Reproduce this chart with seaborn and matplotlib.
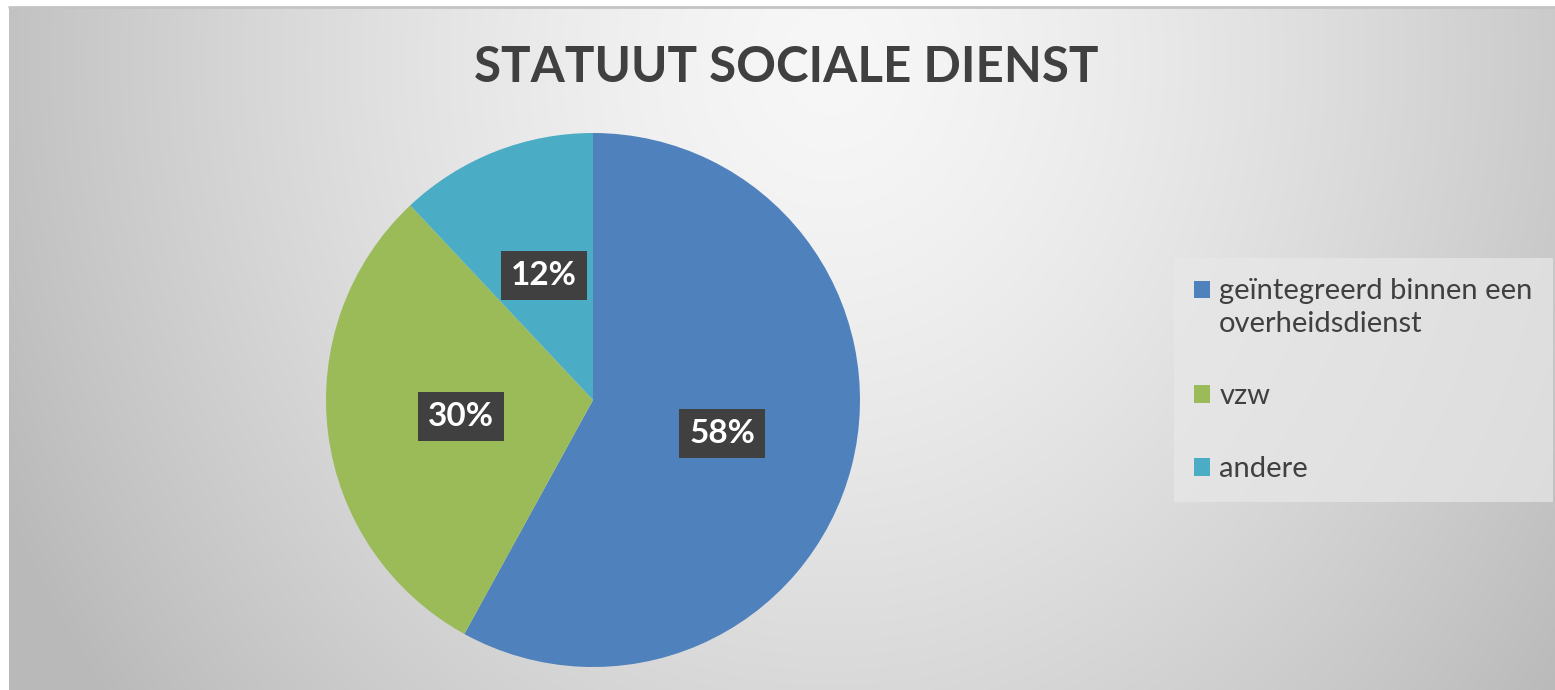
import numpy as np
import matplotlib
matplotlib.use("Agg")
import matplotlib.pyplot as plt
from matplotlib.patches import Rectangle
from matplotlib.legend_handler import HandlerPatch
import seaborn as sns

# data
labels = ["geïntegreerd binnen een\noverheidsdienst", "vzw", "andere"]
values = [58, 30, 12]
colors = ["#4F81BD", "#9BBB59", "#4BACC6"]
title = "STATUUT SOCIALE DIENST"

sns.set_theme(style="white")
plt.rcParams['font.family'] = ['Lato', 'DejaVu Sans']

W, H = 1555, 690
fig = plt.figure(figsize=(W / 100, H / 100), dpi=100)
fig.patch.set_facecolor("white")

# radial grey gradient behind the chart
bg = fig.add_axes([9 / W, 0, (W - 9) / W, (H - 7) / H])
yy, xx = np.mgrid[7:H, 9:W]
d = np.sqrt(((xx - 830) / 790.0) ** 2 + ((yy - 60) / 900.0) ** 2)
shade = np.clip(247 - 50 * d ** 1.4, 185, 250) / 255.0
rgb = np.dstack([shade, shade, shade])
bg.imshow(rgb, aspect="auto", interpolation="bilinear")
bg.axis("off")
fig.add_artist(plt.Line2D([9 / W, 1], [1 - 7 / H, 1 - 7 / H], color="#c4c4c4", lw=2,
                          transform=fig.transFigure))

# pie
r = 267
cx, cy = 593, 400
ax = fig.add_axes([(cx - r) / W, 1 - (cy + r) / H, 2 * r / W, 2 * r / H])
wedges, texts, autotexts = ax.pie(values, colors=colors, startangle=90, counterclock=False,
                                  autopct="%1.0f%%", pctdistance=0.5,
                                  wedgeprops=dict(linewidth=0))
for t in autotexts:
    t.set_color("white")
    t.set_fontsize(24)
    t.set_fontweight("bold")
    t.set_bbox(dict(boxstyle="square,pad=0.3", fc="#404040", ec="none"))
ax.set_xlim(-1, 1)
ax.set_ylim(-1, 1)
ax.set_aspect("equal")
ax.axis("off")

fig.text(786 / W, 1 - 67 / H, title, ha="center", va="center", fontsize=35.5,
         fontweight="bold", color="#404040")

# legend: marker lines up with first text line like in Excel
fs = 21


def first_line_patch(legend, orig_handle, xdescent, ydescent, width, height, fontsize):
    return Rectangle((-xdescent, -ydescent + 0.62 * fontsize), width, height)


hmap = {wedges[0]: HandlerPatch(patch_func=first_line_patch)}
leg = fig.legend(wedges, labels, loc="upper left",
                 bbox_to_anchor=(1174 / W, 1 - 258 / H), fontsize=fs,
                 handlelength=0.55, handleheight=0.55, handletextpad=0.3,
                 labelspacing=1.6, borderpad=0.7, borderaxespad=0,
                 frameon=True, fancybox=False,
                 handler_map=hmap, labelcolor="#404040")
for t in leg.get_texts():
    t.set_linespacing(1.3)
leg.get_frame().set_facecolor("#e8e8e8")
leg.get_frame().set_alpha(0.7)
leg.get_frame().set_edgecolor("none")

fig.savefig("out.png", dpi=100)
